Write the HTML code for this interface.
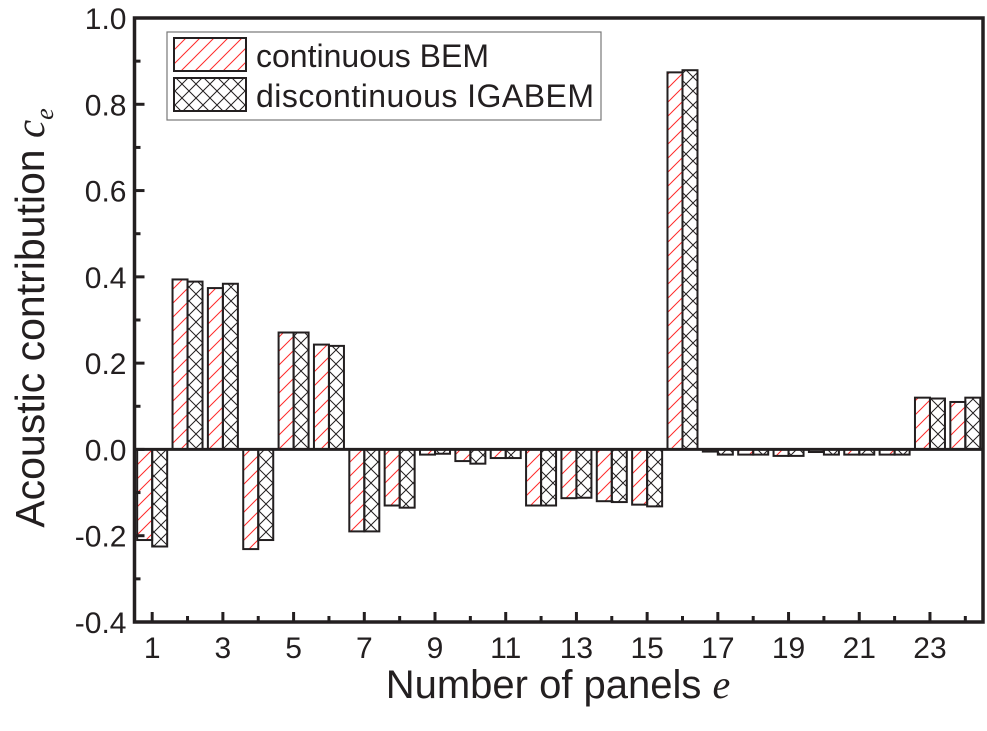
<!DOCTYPE html>
<html><head><meta charset="utf-8"><style>
body{margin:0;background:#fff;width:987px;height:726px;overflow:hidden}
text{font-family:"Liberation Sans",sans-serif;fill:#231f20}
</style></head><body>
<svg id="chart" width="987" height="726" viewBox="0 0 987 726">
<defs>
<pattern id="hatchRed" patternUnits="userSpaceOnUse" width="14" height="14">
<path d="M-1,15 L15,-1 M-8,8 L8,-8 M6,22 L22,6" stroke="#ff2a2a" stroke-width="1"/>
</pattern>
<pattern id="hatchX" patternUnits="userSpaceOnUse" width="14" height="14">
<path d="M0,0 L14,14 M14,0 L0,14" stroke="#231f20" stroke-width="1"/>
</pattern>
</defs>
<g id="bars"></g>
<g id="axes"></g>
<g>
<rect x="167" y="32" width="434" height="88" fill="#fff" stroke="#777" stroke-width="1.2"/>
<rect x="174" y="38" width="72" height="33" fill="url(#hatchRed)" stroke="#231f20" stroke-width="2"/>
<text x="256" y="67" font-size="32">continuous BEM</text>
<rect x="174" y="78" width="72" height="33" fill="url(#hatchX)" stroke="#231f20" stroke-width="2"/>
<text x="256" y="107" font-size="32" textLength="338">discontinuous IGABEM</text>
</g>
<text x="558" y="698" font-size="40" text-anchor="middle">Number of panels <tspan font-family="Liberation Serif" font-style="italic">e</tspan></text>
<text transform="translate(44,318) rotate(-90)" font-size="41" text-anchor="middle">Acoustic contribution <tspan font-family="Liberation Serif" font-style="italic">c</tspan><tspan font-family="Liberation Serif" font-style="italic" font-size="26" dy="9">e</tspan></text>
</svg>
<script>
const categories=[1,2,3,4,5,6,7,8,9,10,11,12,13,14,15,16,17,18,19,20,21,22,23,24];
const continuousBEM=[-0.21,0.394,0.374,-0.231,0.271,0.243,-0.19,-0.13,-0.012,-0.027,-0.02,-0.13,-0.113,-0.12,-0.128,0.874,-0.005,-0.012,-0.015,-0.006,-0.012,-0.012,0.12,0.11];
const discontinuousIGABEM=[-0.225,0.389,0.384,-0.21,0.271,0.24,-0.19,-0.135,-0.01,-0.033,-0.02,-0.13,-0.112,-0.122,-0.132,0.879,-0.012,-0.012,-0.015,-0.012,-0.012,-0.012,0.118,0.12];
const yTicks=[-0.4,-0.2,0.0,0.2,0.4,0.6,0.8,1.0];
const xTickLabels=[1,3,5,7,9,11,13,15,17,19,21,23];
const NS="http://www.w3.org/2000/svg";
const L=134.5,R=983,T=18,B=622,yMin=-0.4,yMax=1.0;
const pw=(R-L)/categories.length;
function xc(c){return L+(c-0.5)*pw;}
function y(v){return B-(v-yMin)/(yMax-yMin)*(B-T);}
function mk(tag,a,p){const e=document.createElementNS(NS,tag);for(const k in a)e.setAttribute(k,a[k]);p.appendChild(e);return e;}
const bars=document.getElementById('bars'),axes=document.getElementById('axes');
const bw=15;
categories.forEach((c,i)=>{
 const cx=xc(c),y0=y(0);
 let v=continuousBEM[i],yv=y(v);
 let r=mk('rect',{x:cx-bw,y:Math.min(y0,yv),width:bw,height:Math.abs(yv-y0),fill:'url(#hatchRed)',stroke:'#231f20','stroke-width':2},bars);
 
 
 v=discontinuousIGABEM[i];yv=y(v);
 r=mk('rect',{x:cx,y:Math.min(y0,yv),width:bw,height:Math.abs(yv-y0),fill:'url(#hatchX)',stroke:'#231f20','stroke-width':2},bars);
 
 
});
const fr=mk('rect',{x:L,y:T,width:R-L,height:B-T,fill:'none',stroke:'#231f20','stroke-width':3.5},axes);


const zl=mk('line',{x1:L,x2:R,y1:y(0),y2:y(0),stroke:'#231f20','stroke-width':3},axes);


yTicks.forEach(t=>{
 const yy=y(t);
 mk('line',{x1:L,x2:L+10,y1:yy,y2:yy,stroke:'#231f20','stroke-width':3},axes);
 const tx=mk('text',{x:L-8,y:yy+11,'font-size':30,'text-anchor':'end'},axes);
 tx.textContent=t.toFixed(1);
 
 
});
for(let k=0;k<yTicks.length-1;k++){const yy=y((yTicks[k]+yTicks[k+1])/2);mk('line',{x1:L,x2:L+6,y1:yy,y2:yy,stroke:'#231f20','stroke-width':3},axes);}
categories.forEach(c=>{const xx=xc(c);const big=xTickLabels.includes(c);mk('line',{x1:xx,x2:xx,y1:B,y2:B-(big?10:6),stroke:'#231f20','stroke-width':3},axes);});
xTickLabels.forEach(c=>{
 const tx=mk('text',{x:xc(c),y:B+36,'font-size':30,'text-anchor':'middle'},axes);
 tx.textContent=c;
 
 
});
</script>
</body></html>
